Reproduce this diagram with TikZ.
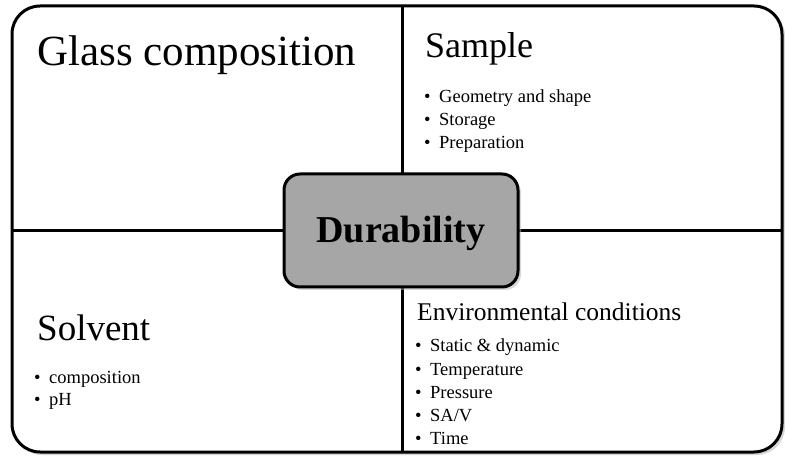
\documentclass[tikz,border=0pt]{standalone}
\usepackage{fontspec}
\setmainfont{Liberation Serif}
\usetikzlibrary{calc}
\tikzset{
  frame/.style={line width=3pt, rounded corners=28pt},
  divider/.style={line width=3pt},
  corebox/.style={draw, line width=3pt, rounded corners=16pt, fill=black!35, minimum width=234pt, minimum height=113pt, inner sep=0pt},
  shadowbox/.style={fill=black!30, opacity=0.5},
  bigtitle/.style={anchor=base west, inner sep=0pt, font=\fontsize{43}{45}\selectfont},
  midtitle/.style={anchor=base west, inner sep=0pt, font=\fontsize{36}{38}\selectfont},
  smalltitle/.style={anchor=base west, inner sep=0pt, font=\fontsize{25.5}{27}\selectfont},
  item/.style={anchor=base west, inner sep=0pt, font=\fontsize{18.5}{20}\selectfont},
}
\newcommand{\bul}[1]{\makebox[15pt][l]{•}#1}
\begin{document}
\begin{tikzpicture}[x=1pt,y=-1pt]
\useasboundingbox (0,0) rectangle (785,457);
% outer frame shadow and frame
\fill[shadowbox, rounded corners=28pt] (14,8) rectangle (785,455);
\draw[frame, fill=white] (12,6) rectangle (782,452);
% divider coordinates
\coordinate (topmid) at (402,6);
\coordinate (botmid) at (402,452);
\coordinate (leftmid) at (12,231);
\coordinate (rightmid) at (782,231);
\draw[divider] (topmid) -- (botmid);
\draw[divider] (leftmid) -- (rightmid);
% center box
\fill[shadowbox, rounded corners=16pt] (287,177) rectangle (521,290);
\node[corebox] (core) at (401,230.5) {};
\node[anchor=base, inner sep=0pt, font=\fontsize{38}{40}\selectfont\bfseries] (coretext) at (401,243) {Durability};
% quadrant texts
\node[bigtitle] (glass) at (37,66) {Glass composition};
\node[midtitle] (sample) at (425,58) {Sample};
\node[item] (s1) at (424,103) {\bul{Geometry and shape}};
\node[item] (s2) at (424,126) {\bul{Storage}};
\node[item] (s3) at (424,149) {\bul{Preparation}};
\node[midtitle, font=\fontsize{37}{39}\selectfont] (solvent) at (37,340) {Solvent};
\node[item] (v1) at (34,383) {\bul{composition}};
\node[item] (v2) at (34,405) {\bul{pH}};
\node[smalltitle] (env) at (417,320) {Environmental conditions};
\node[item] (e1) at (415,352) {\bul{Static \& dynamic}};
\node[item] (e2) at (415,375) {\bul{Temperature}};
\node[item] (e3) at (415,398) {\bul{Pressure}};
\node[item] (e4) at (415,421) {\bul{SA/V}};
\node[item] (e5) at (415,444) {\bul{Time}};
\end{tikzpicture}
\end{document}
